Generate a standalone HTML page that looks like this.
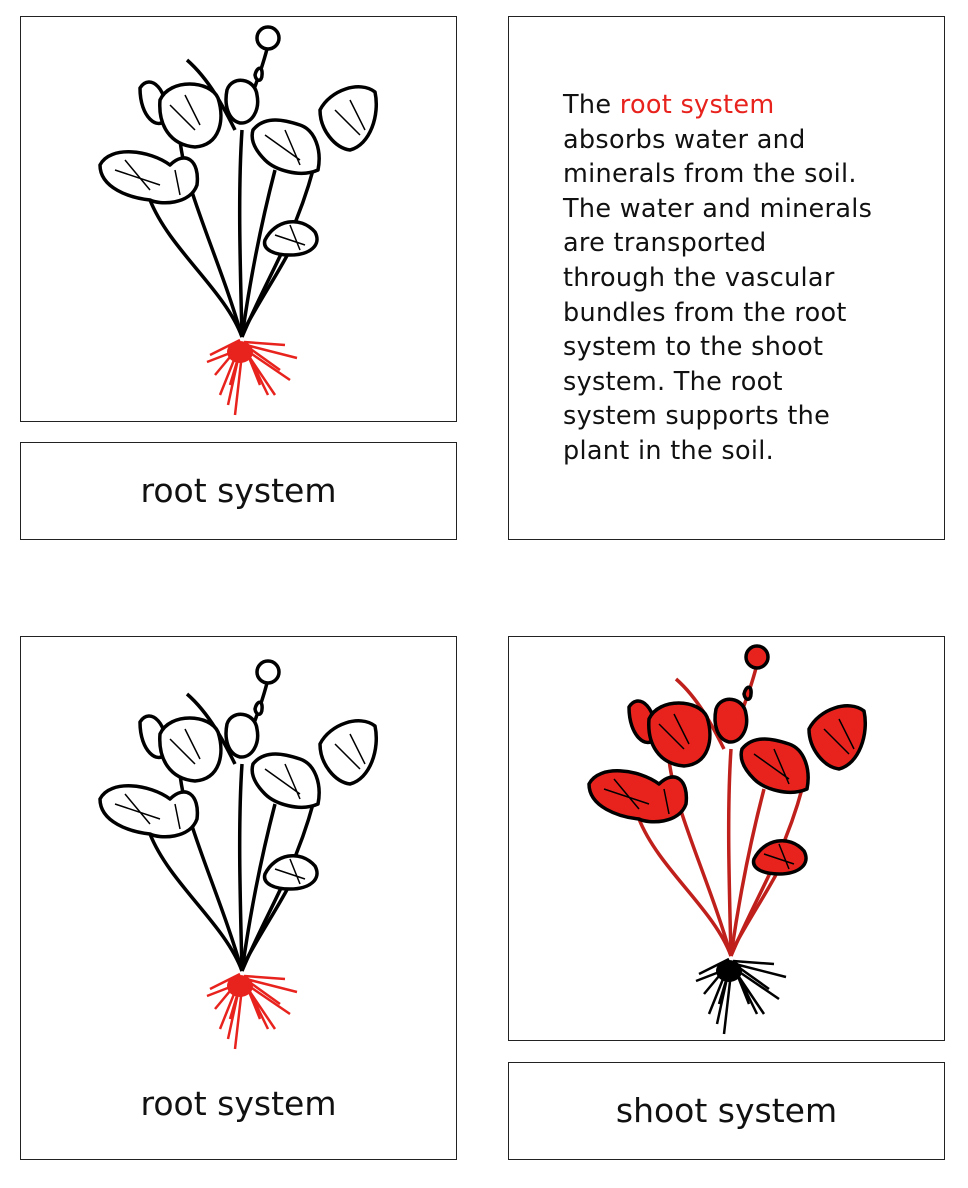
<!DOCTYPE html>
<html><head><style>
body{margin:0;background:#fff;width:968px;height:1188px;position:relative;font-family:"DejaVu Sans","Liberation Sans",sans-serif;}
.b{position:absolute;border:1.5px solid #222;box-sizing:border-box;}
.lbl{font-size:33px;color:#111;text-align:center;}
svg{position:absolute;left:0;top:0;}
.t{position:absolute;left:563px;top:88px;font-size:25.5px;line-height:34.6px;color:#111;letter-spacing:0.3px;white-space:nowrap;}
</style></head><body>
<div class="b" style="left:20px;top:16px;width:437px;height:406px"></div>
<div class="b lbl" style="left:20px;top:442px;width:437px;height:98px;line-height:96px">root system</div>
<div class="b" style="left:508px;top:16px;width:437px;height:524px"></div>
<div class="t">The <span style="color:#e8231e">root system</span><br>absorbs water and<br>minerals from the soil.<br>The water and minerals<br>are transported<br>through the vascular<br>bundles from the root<br>system to the shoot<br>system. The root<br>system supports the<br>plant in the soil.</div>
<div class="b" style="left:20px;top:636px;width:437px;height:524px"></div>
<div class="lbl" style="position:absolute;left:20px;top:1084px;width:437px">root system</div>
<div class="b" style="left:508px;top:636px;width:437px;height:405px"></div>
<div class="b lbl" style="left:508px;top:1062px;width:437px;height:98px;line-height:96px">shoot system</div>
<svg width="968" height="1188" viewBox="0 0 968 1188">
<defs>
<g id="stems" fill="none" stroke-width="3.5">
<path d="M242 337 C225 290 170 250 150 200"/>
<path d="M242 337 C220 260 185 190 180 140"/>
<path d="M242 337 C240 260 238 190 242 130"/>
<path d="M242 337 C250 280 262 220 275 170"/>
<path d="M242 337 C270 270 300 230 318 150"/>
<path d="M244 330 C260 300 280 270 290 250"/>
<path d="M242 120 C250 100 262 70 268 45"/>
<path d="M187 60 C210 80 225 110 235 130"/>
</g>
<g id="leaves" stroke="#000" stroke-width="3.5" stroke-linejoin="round">
<path d="M140 88 C150 72 170 90 165 120 C158 130 140 118 140 88Z"/>
<path d="M160 100 C170 78 210 80 218 98 C225 120 220 145 195 147 C170 145 158 125 160 100Z"/>
<path d="M100 165 C110 145 150 150 170 165 C185 150 200 160 197 185 C190 205 160 205 150 200 C130 198 100 188 100 165Z"/>
<path d="M253 130 C265 115 285 120 300 125 C315 130 322 150 318 170 C300 178 275 170 265 160 C255 150 250 140 253 130Z"/>
<path d="M320 110 C330 90 360 80 375 92 C380 115 370 145 350 150 C335 148 320 130 320 110Z"/>
<path d="M265 240 C275 220 300 215 315 232 C322 245 310 255 290 255 C275 255 262 250 265 240Z"/>
<path d="M227 90 C232 75 255 78 257 95 C260 110 252 124 240 123 C228 120 224 105 227 90Z"/>
<circle cx="268" cy="38" r="11"/>
<path d="M255 75 C257 66 263 66 262 75 C262 82 256 82 255 75Z"/>
</g>
<g id="veins" fill="none" stroke="#000" stroke-width="1.5">
<path d="M115 170 L160 185 M125 160 L150 190 M175 170 L180 195 M170 105 L195 130 M185 95 L200 125 M265 135 L300 160 M285 130 L300 165 M335 110 L360 135 M350 100 L365 130 M275 235 L305 245 M290 225 L300 250"/>
</g>
<g id="roots" fill="none" stroke-width="2.5">
<path d="M240 340 L210 355 M240 345 L215 375 M242 345 L230 385 M243 345 L235 415 M244 345 L260 385 M245 345 L280 370 M246 345 L297 358 M244 342 L285 345 M240 345 L220 395 M245 348 L268 395 M238 350 L207 362 M246 350 L290 380 M240 350 L228 405 M246 352 L275 395"/>
<ellipse cx="240" cy="352" rx="13" ry="11" stroke="none" fill="currentColor"/>
</g>
</defs>
<g stroke="#000"><use href="#stems"/></g>
<g fill="#fff"><use href="#leaves"/></g><use href="#veins"/>
<g stroke="#e8231e" color="#e8231e"><use href="#roots"/></g>
<g transform="translate(0,634)">
<g stroke="#000"><use href="#stems"/></g>
<g fill="#fff"><use href="#leaves"/></g><use href="#veins"/>
<g stroke="#e8231e" color="#e8231e"><use href="#roots"/></g>
</g>
<g transform="translate(489,619)">
<g stroke="#c0201b"><use href="#stems"/></g>
<g fill="#e8231e"><use href="#leaves"/></g><use href="#veins"/>
<g stroke="#000" color="#000"><use href="#roots"/></g>
</g>
</svg>
</body></html>
